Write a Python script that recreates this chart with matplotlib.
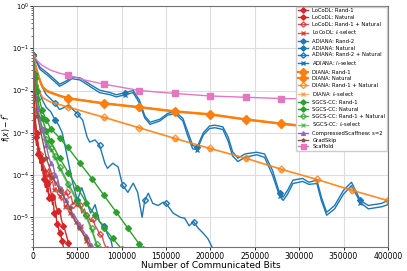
import numpy as np
import matplotlib
matplotlib.use("Agg")
import matplotlib.pyplot as plt

# x in thousands of bits, y as log10(f(x) - f*)
scaffold_x = [0, 2, 5, 10, 20, 30, 40, 60, 80, 120, 160, 200, 240, 280, 320, 360, 400]
scaffold_y = [-1.1, -1.2, -1.3, -1.4, -1.52, -1.59, -1.64, -1.76, -1.85, -2.0, -2.07, -2.13, -2.16, -2.19, -2.2, -2.22, -2.23]

diana_r_x = [0, 2, 5, 8, 11, 16, 22, 30, 40, 80, 120, 160, 200, 240, 280, 320, 360, 400]
diana_r_y = [-1.15, -1.35, -1.57, -1.77, -1.92, -2.01, -2.06, -2.12, -2.18, -2.3, -2.39, -2.49, -2.56, -2.68, -2.78, -2.87, -2.96, -3.06]
diana_n_y = [-1.15, -1.36, -1.58, -1.78, -1.93, -2.02, -2.07, -2.13, -2.19, -2.31, -2.4, -2.5, -2.57, -2.69, -2.79, -2.88, -2.97, -3.07]
diana_rn_x = [0, 2, 5, 8, 11, 20, 30, 40, 80, 120, 160, 200, 240, 280, 320, 360, 400]
diana_rn_y = [-1.15, -1.45, -1.85, -2.05, -2.17, -2.27, -2.33, -2.39, -2.63, -2.88, -3.13, -3.37, -3.6, -3.86, -4.1, -4.36, -4.6]
diana_i_y = [-1.15, -1.46, -1.86, -2.06, -2.18, -2.28, -2.34, -2.4, -2.64, -2.89, -3.14, -3.38, -3.61, -3.87, -4.11, -4.37, -4.61]

adiana_slow_x = [0, 8, 17, 25, 30, 37, 44, 53, 64, 75, 87, 94, 104, 113, 120, 126, 132, 143, 152, 158, 163, 169, 174,
                 180, 185, 192, 199, 205, 214, 220, 225, 231, 239, 252, 261, 270, 278, 282, 287, 293, 304, 311, 320,
                 325, 331, 340, 350, 359, 369, 378, 393, 400]
adiana_r2_y = [-1.15, -1.45, -1.6, -1.75, -1.85, -1.78, -1.68, -1.7, -1.85, -1.99, -2.05, -2.1, -2.05, -2.0, -2.23, -2.6,
               -2.75, -2.68, -2.54, -2.51, -2.55, -2.66, -2.95, -3.3, -3.34, -3.0, -2.84, -2.82, -2.86, -3.1, -3.45,
               -3.6, -3.5, -3.46, -3.5, -3.89, -4.43, -4.52, -4.36, -4.12, -4.08, -4.17, -4.12, -4.52, -4.88, -4.72,
               -4.36, -4.17, -4.6, -4.72, -4.67, -4.6]
adiana_i_y = [-1.15, -1.5, -1.65, -1.8, -1.9, -1.82, -1.72, -1.75, -1.9, -2.05, -2.1, -2.15, -2.1, -2.05, -2.3, -2.65,
              -2.8, -2.72, -2.58, -2.56, -2.6, -2.72, -3.05, -3.38, -3.4, -3.05, -2.9, -2.88, -2.92, -3.2, -3.55,
              -3.68, -3.58, -3.52, -3.58, -4.0, -4.5, -4.6, -4.45, -4.2, -4.15, -4.22, -4.2, -4.6, -4.95, -4.8,
              -4.45, -4.25, -4.65, -4.8, -4.75, -4.7]

adiana_rn_x = [0, 5, 10, 15, 20, 25, 30, 35, 40, 45, 50, 56, 61, 64, 70, 75, 81, 84, 90, 96, 101, 107, 113, 118,
               123, 126, 130, 135, 141, 147, 150, 158, 166, 171, 176, 181, 186, 192, 197, 203]
adiana_rn_y = [-1.15, -1.6, -1.9, -2.1, -2.2, -2.3, -2.45, -2.4, -2.35, -2.45, -2.55, -2.7, -3.1, -3.22, -3.17,
               -3.29, -3.72, -3.84, -3.72, -3.81, -4.24, -4.41, -4.19, -4.41, -5.0, -4.6, -4.43, -4.67, -4.72, -4.64,
               -4.67, -4.9, -5.0, -5.02, -5.2, -5.1, -5.25, -5.38, -5.5, -5.75]

adiana_n_x = [0, 3, 6, 10, 15, 20, 25, 29, 33, 37, 41, 45, 50, 55, 60, 65, 70, 75, 80, 85, 88, 90]
adiana_n_y = [-1.15, -1.6, -1.95, -2.2, -2.4, -2.5, -2.7, -2.82, -3.0, -3.4, -3.8, -4.2, -4.6, -4.3, -4.6, -4.9,
              -4.7, -5.1, -5.2, -5.45, -5.55, -5.75]

sgcs_r_x = [0, 2, 5, 10, 15, 20, 30, 39, 53, 67, 80, 94, 107, 120, 124]
sgcs_r_y = [-1.15, -1.6, -2.0, -2.45, -2.7, -2.9, -3.12, -3.34, -3.72, -4.1, -4.48, -4.88, -5.26, -5.64, -5.75]
sgcs_n_x = [0, 2, 5, 10, 15, 20, 30, 40, 50, 60, 70, 80, 90, 100]
sgcs_n_y = [-1.15, -1.7, -2.2, -2.65, -2.95, -3.2, -3.6, -3.95, -4.3, -4.65, -4.95, -5.25, -5.5, -5.75]
sgcs_rn_x = [0, 2, 5, 10, 15, 20, 25, 30, 40, 50, 60, 66, 72, 75]
sgcs_rn_y = [-1.15, -1.9, -2.45, -2.9, -3.15, -3.35, -3.55, -3.8, -4.2, -4.6, -4.95, -5.26, -5.64, -5.75]
sgcs_i_y = [-1.15, -1.95, -2.5, -2.95, -3.2, -3.4, -3.6, -3.85, -4.25, -4.65, -5.0, -5.3, -5.68, -5.8]

loco_x = [0, 1, 2, 3, 4, 5, 6, 7, 8, 9, 10, 11, 12, 13, 14, 15, 16, 17, 18, 19, 20, 21, 22, 23, 24, 25, 26, 27,
          28, 29, 30, 31, 32, 33, 34, 35]
loco_r_y = [-1.15, -2.2, -2.9, -3.1, -3.3, -3.2, -3.5, -3.4, -3.72, -3.6, -3.9, -3.8, -4.1, -4.0, -4.29, -4.15,
            -4.4, -4.3, -4.55, -4.45, -4.6, -4.5, -4.7, -4.65, -4.9, -5.0, -4.95, -5.15, -5.1, -5.3, -5.38, -5.3,
            -5.5, -5.55, -5.67, -5.8]
loco_n_x = [0, 1, 2, 4, 6, 8, 10, 12, 14, 16, 18, 20, 22, 24, 26, 28, 30, 32, 34, 36, 38, 40, 42]
loco_n_y = [-1.15, -2.0, -2.7, -3.0, -3.3, -3.5, -3.65, -3.9, -4.0, -4.2, -4.15, -4.4, -4.55, -4.5, -4.75, -4.85,
            -4.8, -5.05, -5.2, -5.3, -5.45, -5.6, -5.8]
loco_rn_x = [0, 2, 5, 8, 10, 13, 15, 18, 20, 23, 25, 28, 30, 33, 35, 38, 40, 43, 45, 48, 50, 53, 55, 58, 60, 63,
             65, 68, 70, 73, 75, 78, 80, 83]
loco_rn_y = [-1.15, -2.5, -3.2, -3.5, -3.7, -3.8, -3.95, -3.85, -4.1, -4.0, -4.25, -4.15, -4.35, -4.3, -4.5,
             -4.4, -4.55, -4.5, -4.7, -4.6, -4.75, -4.7, -4.9, -4.8, -4.95, -5.0, -5.1, -5.05, -5.2, -5.3, -5.4,
             -5.45, -5.6, -5.75]
loco_i_x = [0, 2, 4, 6, 8, 10, 12, 14, 16, 18, 20, 22, 24, 26, 28, 30, 32, 34, 36, 38, 40, 42, 44, 46, 48, 50,
            52, 54, 56, 58, 60, 62, 64]
loco_i_y = [-1.15, -2.6, -3.1, -3.4, -3.6, -3.75, -3.9, -3.85, -4.05, -4.0, -4.2, -4.15, -4.35, -4.3, -4.45,
            -4.5, -4.6, -4.55, -4.75, -4.7, -4.85, -4.9, -5.0, -4.95, -5.1, -5.15, -5.25, -5.2, -5.35, -5.45,
            -5.55, -5.65, -5.8]

csn_x = [0, 2, 5, 8, 11, 13, 15, 17, 20, 23, 25, 28, 30, 33, 37, 41, 45, 48, 52, 56, 60, 63, 65, 68]
csn_y = [-1.15, -1.9, -2.4, -2.7, -2.9, -3.15, -3.3, -3.5, -3.72, -3.8, -4.0, -4.1, -4.3, -4.4, -4.6, -4.75,
         -4.95, -5.0, -5.15, -5.3, -5.43, -5.5, -5.66, -5.8]
gs_x = [0, 2, 5, 10, 15, 20, 22, 25, 30, 37, 42, 45, 52, 56, 60, 65, 67]
gs_y = [-1.15, -2.0, -2.6, -3.1, -3.6, -3.9, -4.07, -4.15, -4.35, -4.6, -4.79, -5.0, -5.25, -5.38, -5.5, -5.7, -5.8]

red = '#d62728'
blue = '#1f77b4'
orange = '#ff7f0e'
green = '#2ca02c'


def k(xs):
    return np.array(xs) * 1000.0


def v(ys):
    return np.power(10.0, np.array(ys))


def every40(xs):
    return [i for i, x in enumerate(xs) if x > 0 and x % 40 == 0]


fig, ax = plt.subplots(figsize=(4.07, 2.71), dpi=100)
fig.subplots_adjust(left=0.081, right=0.953, top=0.978, bottom=0.089)

ms = 3
ax.plot(k(loco_x), v(loco_r_y), color=red, marker='D', ms=ms, markevery=3, lw=1, label='LoCoDL: Rand-1')
ax.plot(k(loco_n_x), v(loco_n_y), color=red, marker='D', ms=ms, markevery=3, lw=1, label='LoCoDL: Natural')
ax.plot(k(loco_rn_x), v(loco_rn_y), color=red, marker='D', ms=ms, mfc='none', markevery=3, lw=1, alpha=0.8,
        label='LoCoDL: Rand-1 + Natural')
ax.plot(k(loco_i_x), v(loco_i_y), color=red, marker='x', ms=ms, markevery=3, lw=1, alpha=0.8,
        label=r'LoCoDL: $l_i$-select')

ax.plot(k(adiana_slow_x), v(adiana_r2_y), color=blue, marker='D', ms=ms, markevery=12, lw=1, label='ADIANA: Rand-2')
ax.plot(k(adiana_n_x), v(adiana_n_y), color=blue, marker='D', ms=ms, markevery=6, lw=1, label='ADIANA: Natural')
ax.plot(k(adiana_rn_x), v(adiana_rn_y), color=blue, marker='D', ms=ms, mfc='none', markevery=5, lw=1,
        label='ADIANA: Rand-2 + Natural')
ax.plot(k(adiana_slow_x), v(adiana_i_y), color=blue, marker='x', ms=ms, markevery=12, lw=1,
        label=r'ADIANA: $l_i$-select')

ax.plot(k(diana_r_x), v(diana_r_y), color=orange, marker='D', ms=4.5, markevery=every40(diana_r_x), lw=1.5,
        label='DIANA: Rand-1')
ax.plot(k(diana_r_x), v(diana_n_y), color=orange, marker='D', ms=4.5, markevery=every40(diana_r_x), lw=1.5,
        label='DIANA: Natural')
ax.plot(k(diana_rn_x), v(diana_rn_y), color=orange, marker='D', ms=ms + 0.5, mfc='none',
        markevery=every40(diana_rn_x), lw=1, alpha=0.8, label='DIANA: Rand-1 + Natural')
ax.plot(k(diana_rn_x), v(diana_i_y), color=orange, marker='x', ms=ms, markevery=every40(diana_rn_x), lw=1,
        alpha=0.6, label=r'DIANA: $l_i$-select')

ax.plot(k(sgcs_r_x), v(sgcs_r_y), color=green, marker='D', ms=ms, markevery=1, lw=1, label='SGCS-CC: Rand-1')
ax.plot(k(sgcs_n_x), v(sgcs_n_y), color=green, marker='D', ms=ms, markevery=1, lw=1, label='SGCS-CC: Natural')
ax.plot(k(sgcs_rn_x), v(sgcs_rn_y), color=green, marker='D', ms=ms, mfc='none', markevery=1, lw=1, alpha=0.8,
        label='SGCS-CC: Rand-1 + Natural')
ax.plot(k(sgcs_rn_x), v(sgcs_i_y), color=green, marker='x', ms=ms, markevery=1, lw=1, alpha=0.6,
        label=r'SGCS-CC: $l_i$-select')

ax.plot(k(csn_x), v(csn_y), color='tab:purple', marker='^', ms=ms, markevery=2, lw=1,
        label='CompressedScaffnew: s=2')
ax.plot(k(gs_x), v(gs_y), color='tab:brown', marker='*', ms=ms, markevery=2, lw=1, label='GradSkip')
ax.plot(k(scaffold_x), v(scaffold_y), color='tab:pink', marker='s', ms=4, markevery=every40(scaffold_x),
        lw=1, label='Scaffold')

ax.set_yscale('log')
ax.set_xlim(0, 400000)
ax.set_ylim(2e-6, 1)
ax.set_xticks([0, 50000, 100000, 150000, 200000, 250000, 300000, 350000, 400000])
ax.ticklabel_format(axis='x', style='plain')
ax.tick_params(labelsize=5.5, length=2, width=0.6, pad=1.5)
ax.tick_params(axis='y', labelsize=4.8, pad=1.0)
ax.tick_params(which='minor', length=1.2, width=0.4)
ax.grid(True, color='#dddddd', lw=0.8)
ax.grid(False, which='minor')
for s in ax.spines.values():
    s.set_color('0.45')
    s.set_linewidth(0.8)
ax.set_xlabel('Number of Communicated Bits', fontsize=6.5, labelpad=0.5)
ax.set_ylabel(r'$f(x) - f^{*}$', fontsize=5.5)
ax.yaxis.set_label_coords(-0.057, 0.5)

ax.legend(loc='upper right', fontsize=3.8, borderaxespad=0.15, handlelength=2.0, labelspacing=0.32,
          framealpha=1, edgecolor='#cccccc', borderpad=0.3, markerscale=0.9)

fig.savefig('out.png', dpi=100)
